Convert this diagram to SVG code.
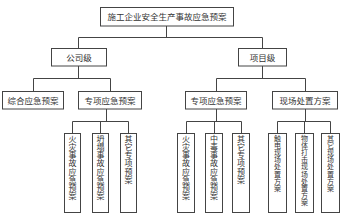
<svg xmlns="http://www.w3.org/2000/svg" width="350" height="222" viewBox="0 0 350 222">
<style>
.box{fill:#fff;stroke:#444;stroke-width:1}
.ln{fill:none;stroke:#444;stroke-width:1}
text{font-family:"Noto Sans CJK SC","Liberation Sans",sans-serif;fill:#333}
.h{font-size:8.5px;text-anchor:middle}
.v{font-size:8px;text-anchor:middle}
.v7{font-size:7px;text-anchor:middle}
</style>
<rect width="350" height="222" fill="#fff"/>
<g id="connectors">
<path class="ln" d="M166.5 26V37.5M78.5 37.5H262.5M78.5 37.5V48M262.5 37.5V48"/>
<path class="ln" d="M78.5 66V78.5M33.5 78.5H110.5M33.5 78.5V91M110.5 78.5V91"/>
<path class="ln" d="M262.5 66V78.5M216.5 78.5H305.5M216.5 78.5V91M305.5 78.5V91"/>
<path class="ln" d="M106.5 109V121.5M72.5 121.5H128.5M72.5 121.5V133M100.5 121.5V133M128.5 121.5V133"/>
<path class="ln" d="M216.5 109V121.5M186.5 121.5H241.5M186.5 121.5V133M214.5 121.5V133M241.5 121.5V133"/>
<path class="ln" d="M305.5 109V121.5M277.5 121.5H330.5M277.5 121.5V133M304.5 121.5V133M330.5 121.5V133"/>
</g>
<g id="root"><rect class="box" x="100.5" y="7.5" width="133" height="18.5"/><text class="h" x="167" y="20">施工企业安全生产事故应急预案</text></g>
<g id="company"><rect class="box" x="51.5" y="48.5" width="55" height="17.5"/><text class="h" x="79" y="60.5">公司级</text></g>
<g id="project"><rect class="box" x="238.5" y="48.5" width="48" height="17.5"/><text class="h" x="262.5" y="60.5">项目级</text></g>
<g id="c-general"><rect class="box" x="2.5" y="91.5" width="61" height="17.5"/><text class="h" x="33" y="103.5">综合应急预案</text></g>
<g id="c-special"><rect class="box" x="78.5" y="91.5" width="63" height="17.5"/><text class="h" x="110" y="103.5">专项应急预案</text></g>
<g id="p-special"><rect class="box" x="185.5" y="91.5" width="61" height="17.5"/><text class="h" x="216" y="103.5">专项应急预案</text></g>
<g id="p-site"><rect class="box" x="272.5" y="91.5" width="65" height="17.5"/><text class="h" x="305" y="103.5">现场处置方案</text></g>
<g id="c-fire"><rect class="box" x="64.5" y="133.5" width="16" height="79"/><text class="v" x="72.5 72.5 72.5 72.5 72.5 72.5 72.5 72.5" y="142 150 158 166 175 183 191 199">火灾事故应急预案</text></g>
<g id="c-collapse"><rect class="box" x="92.5" y="133.5" width="16" height="79"/><text class="v" x="100.5 100.5 100.5 100.5 100.5 100.5 100.5 100.5" y="142 150 158 166 175 183 191 199">坍塌事故应急预案</text></g>
<g id="c-other"><rect class="box" x="120.5" y="133.5" width="16" height="79"/><text class="v" x="128.5 128.5 128.5 128.5 128.5 128.5" y="142 150 158 166 175 183">其它专项预案</text></g>
<g id="p-fire"><rect class="box" x="177.5" y="133.5" width="17" height="79"/><text class="v" x="186 186 186 186 186 186 186 186" y="142 150 158 166 175 183 191 199">火灾事故应急预案</text></g>
<g id="p-poison"><rect class="box" x="205.5" y="133.5" width="17" height="79"/><text class="v" x="214 214 214 214 214 214 214 214" y="142 150 158 166 175 183 191 199">中毒事故应急预案</text></g>
<g id="p-other"><rect class="box" x="232.5" y="133.5" width="17" height="79"/><text class="v" x="241 241 241 241 241 241" y="142 150 158 166 175 183">其它专项预案</text></g>
<g id="s-electric"><rect class="box" x="268.5" y="133.5" width="18" height="79"/><text class="v7" x="277.5 277.5 277.5 277.5 277.5 277.5 277.5 277.5" y="141 148 155 162 169 177 184 191">触电现场处置方案</text></g>
<g id="s-strike"><rect class="box" x="295.5" y="133.5" width="18" height="79"/><text class="v7" x="304.5 304.5 304.5 304.5 304.5 304.5 304.5 304.5 304.5 304.5" y="141 148 155 162 169 177 184 191 198 205">物体打击现场处置方案</text></g>
<g id="s-other"><rect class="box" x="321.5" y="133.5" width="18" height="79"/><text class="v7" x="330.5 330.5 330.5 330.5 330.5 330.5 330.5 330.5" y="141 148 155 162 169 177 184 191">其它现场处置方案</text></g>
</svg>
